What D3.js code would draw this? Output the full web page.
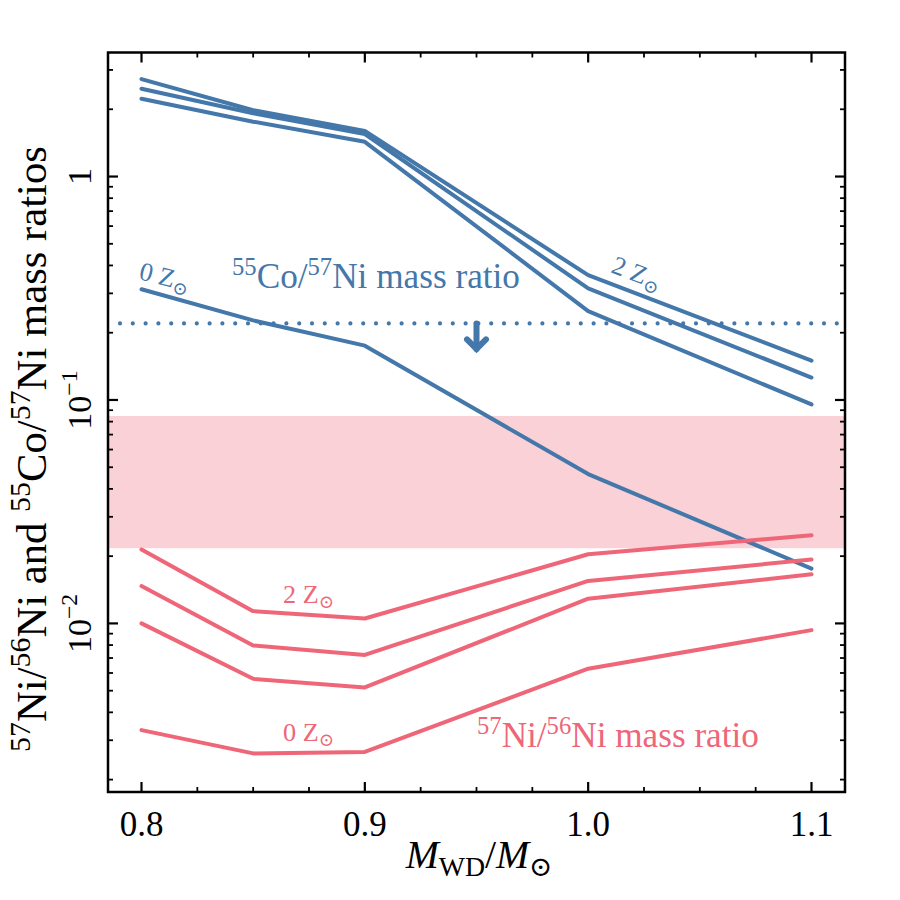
<!DOCTYPE html>
<html><head><meta charset="utf-8">
<script src="https://cdn.jsdelivr.net/npm/d3@7"></script>
<style>body{margin:0;background:#fff}</style>
</head><body>
<script>
// ---------------- data ----------------
const masses = [0.8, 0.85, 0.9, 1.0, 1.1];
// 55Co/57Ni mass ratio (blue)
const coNi_Z0    = [0.313, 0.227, 0.175, 0.0466, 0.0176];
const coNi_Zlow  = [2.23, 1.76, 1.43, 0.250, 0.0955];
const coNi_Zmid  = [2.47, 1.92, 1.55, 0.316, 0.126];
const coNi_Z2    = [2.73, 1.98, 1.60, 0.362, 0.150];
// 57Ni/56Ni mass ratio (red)
const niNi_Z0    = [0.00333, 0.00262, 0.00266, 0.00627, 0.00933];
const niNi_Zlow  = [0.0100, 0.00565, 0.00517, 0.0129, 0.0166];
const niNi_Zmid  = [0.01469, 0.00797, 0.00723, 0.0155, 0.0193];
const niNi_Z2    = [0.0214, 0.01135, 0.01052, 0.0204, 0.0248];
// observed 57Ni/56Ni band and 55Co/57Ni upper limit
const niNiBand = [0.0217, 0.0848];
const coNiLimit = 0.220;
const limitArrowX = 0.95, limitArrowEnd = 0.164;
// axes
const xDomain = [0.785, 1.115];
const yDomain = [0.00176, 3.59];
const xTicks = [0.8, 0.9, 1.0, 1.1];
const xTickLabels = ["0.8", "0.9", "1.0", "1.1"];
const yTicks = [0.01, 0.1, 1];
const yTickLabels = [["10", "−2"], ["10", "−1"], ["1", null]];

const blueSeries = [coNi_Z0, coNi_Zlow, coNi_Zmid, coNi_Z2];
const redSeries = [niNi_Z0, niNi_Zlow, niNi_Zmid, niNi_Z2];

// ---------------- layout ----------------
const W = 900, H = 900;
const L = 108, R = 845, T = 52.5, B = 792;
const BLUE = "#4477AA", RED = "#EE6677";
const FONT = "'Liberation Serif', 'DejaVu Serif', serif";

const svg = d3.select("body").append("svg").attr("width", W).attr("height", H)
  .style("font-family", FONT);

const x = d3.scaleLinear().domain(xDomain).range([L, R]);
const y = d3.scaleLog().domain(yDomain).range([B, T]);

// band
svg.append("rect")
  .attr("x", L).attr("width", R - L)
  .attr("y", y(niNiBand[1])).attr("height", y(niNiBand[0]) - y(niNiBand[1]))
  .attr("fill", RED).attr("fill-opacity", 0.3);

// lines
const line = d3.line().x((d, i) => x(masses[i])).y(d => y(d));
const gLines = svg.append("g").attr("fill", "none").attr("stroke-width", 4)
  .attr("stroke-linejoin", "round").attr("stroke-linecap", "round");
blueSeries.forEach(s => gLines.append("path").attr("d", line(s)).attr("stroke", BLUE));
redSeries.forEach(s => gLines.append("path").attr("d", line(s)).attr("stroke", RED));

// upper limit dotted line
svg.append("line")
  .attr("x1", L).attr("x2", R).attr("y1", y(coNiLimit)).attr("y2", y(coNiLimit))
  .attr("stroke", BLUE).attr("stroke-width", 4.2).attr("stroke-linecap", "round")
  .attr("stroke-dasharray", "0,12.8").attr("stroke-dashoffset", 0.8);

// arrow
const ax = x(limitArrowX), ay0 = y(coNiLimit), ay1 = y(limitArrowEnd);
const gArr = svg.append("g").attr("stroke", BLUE).attr("fill", "none")
  .attr("stroke-width", 6).attr("stroke-linecap", "round").attr("stroke-linejoin", "miter");
gArr.append("line").attr("x1", ax).attr("x2", ax).attr("y1", ay0).attr("y2", ay1 - 3);
gArr.append("path").attr("d", `M${ax - 9.5},${ay1 - 12.5} L${ax},${ay1 - 3} L${ax + 9.5},${ay1 - 12.5}`);

// frame
svg.append("rect").attr("x", L).attr("y", T).attr("width", R - L).attr("height", B - T)
  .attr("fill", "none").attr("stroke", "#000").attr("stroke-width", 2.5);

// ticks
const gT = svg.append("g").attr("stroke", "#000");
const xMinor = d3.range(0.8, 1.1001, 0.025).filter(v => !xTicks.some(t => Math.abs(t - v) < 1e-6));
xTicks.forEach(v => {
  gT.append("line").attr("x1", x(v)).attr("x2", x(v)).attr("y1", B).attr("y2", B - 10).attr("stroke-width", 2.2);
  gT.append("line").attr("x1", x(v)).attr("x2", x(v)).attr("y1", T).attr("y2", T + 10).attr("stroke-width", 2.2);
});
xMinor.forEach(v => {
  gT.append("line").attr("x1", x(v)).attr("x2", x(v)).attr("y1", B).attr("y2", B - 5).attr("stroke-width", 1.8);
  gT.append("line").attr("x1", x(v)).attr("x2", x(v)).attr("y1", T).attr("y2", T + 5).attr("stroke-width", 1.8);
});
const yMinor = [];
[-3, -2, -1, 0].forEach(d => { for (let k = 2; k <= 9; k++) { const v = k * Math.pow(10, d); if (v > yDomain[0] && v < yDomain[1]) yMinor.push(v); } });
yTicks.forEach(v => {
  gT.append("line").attr("x1", L).attr("x2", L + 10).attr("y1", y(v)).attr("y2", y(v)).attr("stroke-width", 2.2);
  gT.append("line").attr("x1", R).attr("x2", R - 10).attr("y1", y(v)).attr("y2", y(v)).attr("stroke-width", 2.2);
});
yMinor.forEach(v => {
  gT.append("line").attr("x1", L).attr("x2", L + 5).attr("y1", y(v)).attr("y2", y(v)).attr("stroke-width", 1.8);
  gT.append("line").attr("x1", R).attr("x2", R - 5).attr("y1", y(v)).attr("y2", y(v)).attr("stroke-width", 1.8);
});

// tick labels
xTicks.forEach((v, i) => {
  svg.append("text").attr("x", x(v)).attr("y", 836).attr("text-anchor", "middle")
    .attr("font-size", 35).text(xTickLabels[i]);
});
yTicks.forEach((v, i) => {
  const t = svg.append("text").attr("transform", `translate(91,${y(v)}) rotate(-90)`)
    .attr("text-anchor", "middle").attr("font-size", 34);
  t.append("tspan").text(yTickLabels[i][0]);
  if (yTickLabels[i][1]) {
    t.append("tspan").attr("font-size", "0.7em").attr("dy", "-0.6em").text(yTickLabels[i][1]);
  }
});

// helper for rich text
function rich(sel, parts) {
  let prev = 0;
  parts.forEach(p => {
    const ts = sel.append("tspan").text(p.t);
    let target = 0;
    if (p.sup) target = -0.38; else if (p.sub) target = 0.2;
    const fsz = (p.sup || p.sub) ? 0.7 : 1;
    if (fsz !== 1) ts.attr("font-size", fsz + "em");
    const shift = target - prev;
    if (shift !== 0) ts.attr("dy", (shift / fsz) + "em");
    if (p.it) ts.attr("font-style", "italic");
    prev = target;
  });
  return sel;
}
function fit(sel, target) {
  const fs = +sel.attr("font-size");
  const w = sel.node().getBBox().width;
  sel.attr("font-size", fs * target / w);
}

// axis labels
const xl = svg.append("text").attr("x", 479).attr("y", 868).attr("text-anchor", "middle").attr("font-size", 34);
rich(xl, [{ t: "M", it: true }, { t: "WD", sub: true }, { t: "/" }, { t: "M", it: true }, { t: "⊙", sub: true }]);
fit(xl, 148);

const yl = svg.append("text").attr("transform", "translate(46,449) rotate(-90)").attr("text-anchor", "middle").attr("font-size", 36);
rich(yl, [{ t: "57", sup: true }, { t: "Ni/" }, { t: "56", sup: true }, { t: "Ni and " },
  { t: "55", sup: true }, { t: "Co/" }, { t: "57", sup: true }, { t: "Ni mass ratios" }]);
fit(yl, 606);

// in-plot labels
const bl = svg.append("text").attr("x", 232).attr("y", 288).attr("font-size", 32).attr("fill", BLUE);
rich(bl, [{ t: "55", sup: true }, { t: "Co/" }, { t: "57", sup: true }, { t: "Ni mass ratio" }]);
fit(bl, 288);

const rl = svg.append("text").attr("x", 477).attr("y", 747).attr("font-size", 32).attr("fill", RED);
rich(rl, [{ t: "57", sup: true }, { t: "Ni/" }, { t: "56", sup: true }, { t: "Ni mass ratio" }]);
fit(rl, 282);

function zLabel(txt, xx, yy, rot, color) {
  const t = svg.append("text").attr("transform", `translate(${xx},${yy}) rotate(${rot})`)
    .attr("font-size", 26).attr("fill", color);
  rich(t, [{ t: txt + " Z" }, { t: "⊙", sub: true }]);
  fit(t, 51);
}
zLabel("0", 138, 279, 14, BLUE);
zLabel("2", 610, 272, 21, BLUE);
zLabel("2", 283, 603, 0, RED);
zLabel("0", 283, 741, 0, RED);
</script>
</body></html>
